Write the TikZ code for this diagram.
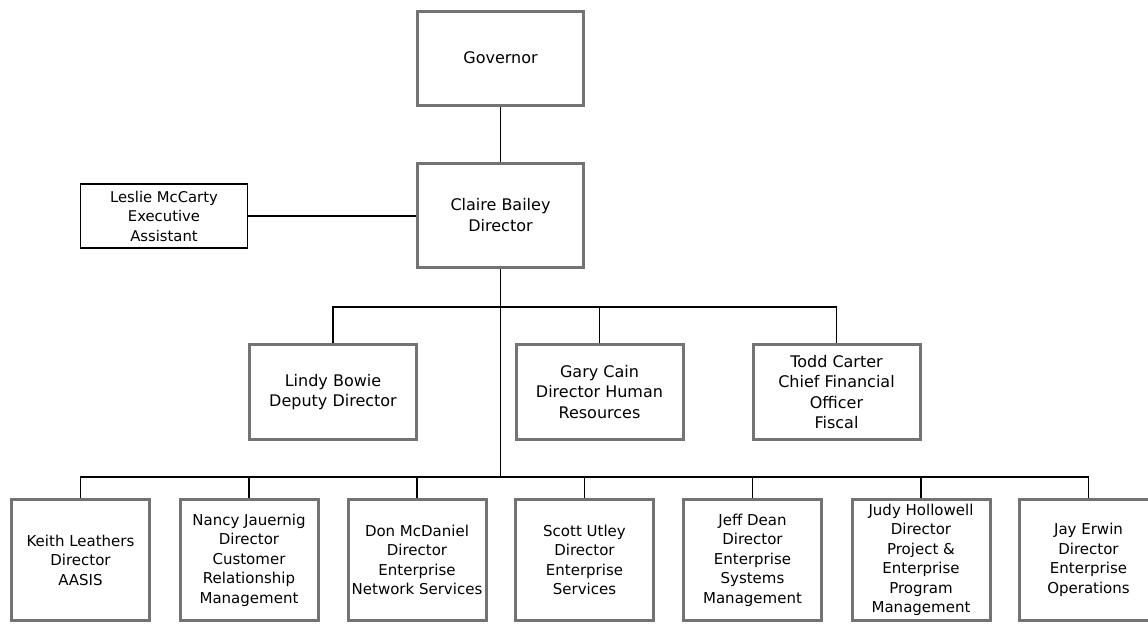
\documentclass[tikz,border=0pt]{standalone}
\usepackage{fontspec}
\setmainfont{DejaVu Sans}
\usetikzlibrary{positioning}

\begin{document}
\begin{tikzpicture}[
  x=1pt,y=-1pt,
  box/.style={draw=black!55,line width=3pt,fill=white,align=center,inner sep=0pt,
    font=\fontsize{16}{20.5}\selectfont},
  topbox/.style={box,minimum width=166,minimum height=94},
  midbox/.style={box,minimum width=167,minimum height=95},
  lowbox/.style={box,minimum width=138,minimum height=121,font=\fontsize{15}{19.5}\selectfont},
  aide/.style={draw=black,line width=1.6pt,align=center,inner sep=0pt,minimum width=167,minimum height=64,
    font=\fontsize{14.8}{19.5}\selectfont},
  link/.style={line width=1.8pt}
]
\useasboundingbox (0,0) rectangle (1148,625);
\node[topbox] (gov) at (500.5,58) {Governor};
\node[topbox,minimum height=104] (claire) at (500.5,215) {Claire Bailey\\Director};
\node[aide] (leslie) at (164,216) {Leslie McCarty\\Executive\\Assistant};
\node[midbox] (lindy) at (333,392) {Lindy Bowie\\Deputy Director};
\node[midbox] (gary) at (599.5,392) {Gary Cain\\Director Human\\Resources};
\node[midbox] (todd) at (836.5,392) {Todd Carter\\Chief Financial\\Officer\\Fiscal};
\node[lowbox] (keith) at (80.5,560) {Keith Leathers\\Director\\AASIS};
\node[lowbox] (nancy) at (249,560) {Nancy Jauernig\\Director\\Customer\\Relationship\\Management};
\node[lowbox] (don) at (417,560) {Don McDaniel\\Director\\Enterprise\\Network Services};
\node[lowbox] (scott) at (584.5,560) {Scott Utley\\Director\\Enterprise\\Services};
\node[lowbox] (jeff) at (752.5,560) {Jeff Dean\\Director\\Enterprise\\Systems\\Management};
\node[lowbox] (judy) at (921,560) {Judy Hollowell\\Director\\Project \&\\Enterprise\\Program\\Management};
\node[lowbox] (jay) at (1088.5,560) {Jay Erwin\\Director\\Enterprise\\Operations};
\coordinate (midbus) at (500.5,307);
\coordinate (lowbus) at (500.5,477);
\draw[link] (gov) -- (claire);
\draw[link] (leslie.east) -- (leslie.east -| claire.west);
\draw[link] (claire.south) -- (lowbus);
\draw[link] (lindy.north) |- (midbus) -| (todd.north);
\draw[link] (gary.north) -- (gary.north |- midbus);
\draw[link] (keith.north) |- (lowbus) -| (jay.north);
\draw[link] (nancy.north) -- (nancy.north |- lowbus);
\draw[link] (don.north) -- (don.north |- lowbus);
\draw[link] (scott.north) -- (scott.north |- lowbus);
\draw[link] (jeff.north) -- (jeff.north |- lowbus);
\draw[link] (judy.north) -- (judy.north |- lowbus);
\end{tikzpicture}
\end{document}
